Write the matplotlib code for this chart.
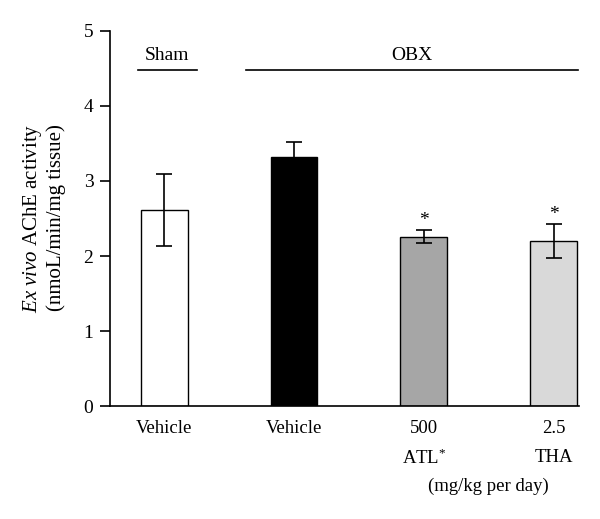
import numpy as np
import matplotlib.pyplot as plt

plt.rcParams.update({
    "font.family": "Liberation Serif",
    "font.size": 13.5,
    "mathtext.fontset": "custom",
    "mathtext.rm": "Liberation Serif",
    "mathtext.it": "Liberation Serif:italic",
})

# data
groups = ["Vehicle", "Vehicle", "500", "2.5"]
values = [2.61, 3.32, 2.26, 2.20]
errors = [0.48, 0.20, 0.08, 0.22]
colors = ["white", "black", "#a6a6a6", "#d9d9d9"]
signif = [False, False, True, True]

x = np.arange(len(values))

fig = plt.figure(figsize=(6, 5.19), dpi=100)
ax = fig.add_axes([0.1833, 0.2177, 0.7817, 0.7226])

ax.bar(x, values, width=0.36, color=colors, edgecolor="black", linewidth=1.0, zorder=2)
ax.errorbar(x, values, yerr=errors, fmt="none", ecolor="black", elinewidth=1.2,
            capsize=6, capthick=1.2, zorder=3)

for xi, v, e, s in zip(x, values, errors, signif):
    if s:
        ax.text(xi, v + e + 0.02, "*", ha="center", va="bottom", fontsize=14)

ax.set_xlim(-0.419, 3.196)
ax.set_ylim(0, 5)
ax.set_yticks([0, 1, 2, 3, 4, 5])
ax.set_xticks(x)
ax.set_xticklabels(groups)
ax.tick_params(axis="x", length=0, pad=10, labelsize=13.5)
ax.tick_params(axis="y", length=7, width=1.2, pad=5, labelsize=14)

for sp in ["top", "right"]:
    ax.spines[sp].set_visible(False)
for sp in ["left", "bottom"]:
    ax.spines[sp].set_linewidth(1.2)

fig.text(43.5 / 600, 1 - 218 / 519,
         "$\\it{Ex\\ vivo}$ AChE activity\n(nmoL/min/mg tissue)",
         rotation=90, ha="center", va="center", fontsize=15, linespacing=1.12)

# group bars at top
ax.plot([-0.205, 0.255], [4.48, 4.48], color="black", lw=1.2, clip_on=False)
ax.text(0.02, 4.56, "Sham", ha="center", va="bottom", fontsize=14)
ax.plot([0.63, 3.19], [4.48, 4.48], color="black", lw=1.2, clip_on=False)
ax.text(1.91, 4.56, "OBX", ha="center", va="bottom", fontsize=14)

# second row of x labels
ax.text(2, -0.57, "$\\mathrm{ATL}^{*}$", ha="center", va="top", fontsize=13.5)
ax.text(3, -0.57, "THA", ha="center", va="top", fontsize=13.5)
ax.text(2.5, -0.95, "(mg/kg per day)", ha="center", va="top", fontsize=13.5)

fig.savefig("out.png", dpi=100)
